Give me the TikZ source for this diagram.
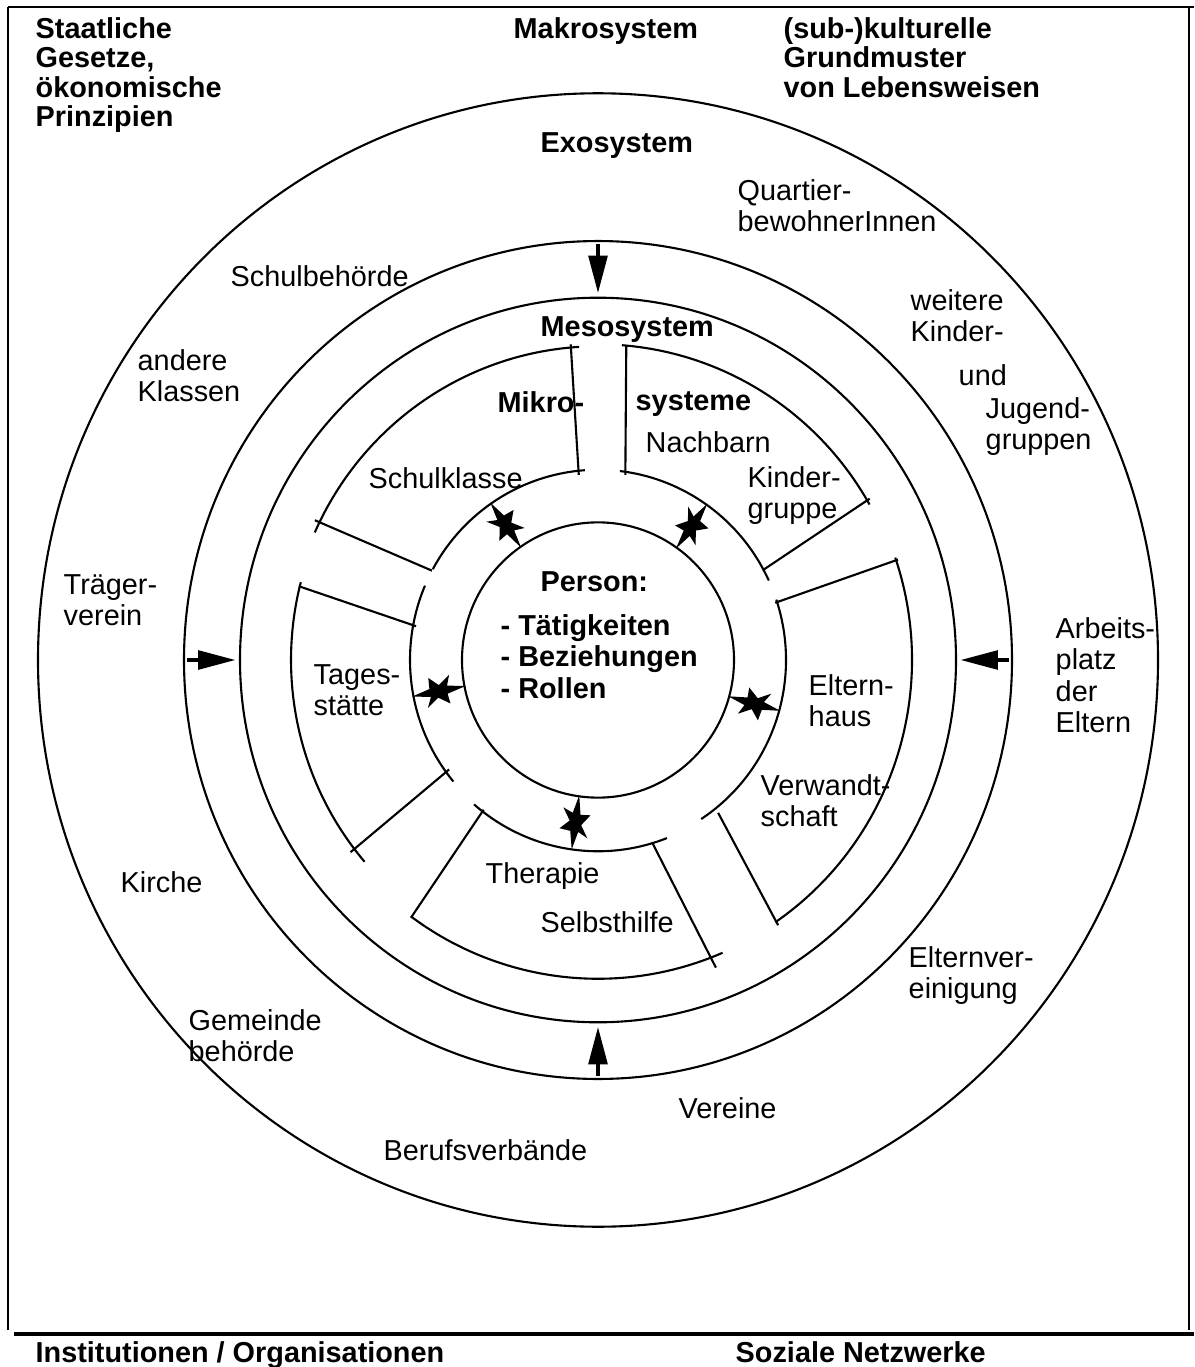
\documentclass[tikz,border=0pt]{standalone}
\usepackage{fontspec}
\setmainfont{Liberation Sans}
\usetikzlibrary{calc,arrows.meta}

\begin{document}
\begin{tikzpicture}[x=0.01cm,y=0.01cm,
    lbl/.style={anchor=north west,inner sep=0pt,align=left,
      font=\fontsize{8.2}{8.9}\selectfont},
    head/.style={lbl,font=\fontsize{8.2}{8.35}\selectfont\bfseries},
    bold/.style={lbl,font=\fontsize{8.2}{8.9}\selectfont\bfseries},
    wall/.style={line width=0.6pt},
    push/.style={line width=1.4pt,-{Triangle[length=10.8pt,width=5.2pt]}}]
  \useasboundingbox (0,0) rectangle (1194,-1367);

  % frame
  \draw[wall] (8,-7) -- (1194,-7);
  \draw[wall] (8,-7) -- (8,-1330);
  \draw[wall] (1189,-7) -- (1189,-1330);
  \draw[line width=0.9pt] (14,-1334) -- (1194,-1334);

  \begin{scope}[shift={(598,-660)},yscale=1.012,wall]
    % system boundaries
    \draw (0,0) circle[radius=560];
    \draw (0,0) circle[radius=414];
    \draw (0,0) circle[radius=358];
    \draw (0,0) circle[radius=136];

    % Schulklasse
    \draw (96:184) -- (95:313);
    \draw (152:188) -- (154:315);
    \draw (93.5:310) arc[start angle=93.5,end angle=156,radius=310];
    \draw (94:188) arc[start angle=94,end angle=151.5,radius=188];
    % Tagesstaette
    \draw (169.6:185) -- (166.3:308);
    \draw (216:184) -- (217.5:312);
    \draw (165.5:307) arc[start angle=165.5,end angle=220.5,radius=307];
    \draw (157:188) arc[start angle=157,end angle=219.7,radius=188];
    % Therapie
    \draw (232.3:187) -- (233.7:316);
    \draw (286.7:188) -- (291.2:326);
    \draw (233.7:315) arc[start angle=233.7,end angle=293.3,radius=315];
    \draw (229:189) arc[start angle=229,end angle=291.4,radius=189];
    % Elternhaus
    \draw (17.7:186) -- (18.3:316);
    \draw (308.5:193) -- (304.5:318);
    \draw (18.8:314) arc[start angle=18.8,end angle=-55.6,radius=314];
    \draw (18.5:188) arc[start angle=18.5,end angle=-56.7,radius=188];
    % Nachbarn
    \draw (81.5:185) -- (84.8:312);
    \draw (28.3:187) -- (30.4:315);
    \draw (85.6:312) arc[start angle=85.6,end angle=29.5,radius=312];
    \draw (83.3:188) arc[start angle=83.3,end angle=24.7,radius=188];

    % influences from outside
    \foreach \a in {0,90,180,270} {
      \coordinate (exo\a) at (\a:411);
      \coordinate (meso\a) at (\a:362);
      \draw[push] (exo\a) -- (meso\a);
    }

    % exchange person <-> microsystems
    \foreach \a in {54.7,124.7,191,262,344.6}
      \fill[shift={(\a:162)},rotate=\a] (27,0) -- (9,4) -- (14,14) -- (2,6)
        -- (-9,14) -- (-8,4) -- (-27,0) -- (-9,-4) -- (-13,-14) -- (-1,-6)
        -- (8,-15) -- (9,-4) -- cycle;
  \end{scope}

  % macro level
  \node[head] (staat) at (35,-17) {Staatliche\\Gesetze,\\ökonomische\\Prinzipien};
  \node[head] (makro) at (513,-17) {Makrosystem};
  \node[head] (kultur) at (783,-17) {(sub-)kulturelle\\Grundmuster\\von Lebensweisen};
  % exo level
  \node[bold] (exo) at (540,-132) {Exosystem};
  \node[lbl] (quartier) at (737,-179) {Quartier-\\bewohnerInnen};
  \node[lbl] (behoerde) at (230,-265) {Schulbehörde};
  \node[lbl] (weitere) at (910,-289) {weitere\\Kinder-};
  \node[lbl] (und) at (958,-364) {und};
  \node[lbl] (jugend) at (985,-397) {Jugend-\\gruppen};
  \node[lbl] (klassen) at (137,-349) {andere\\Klassen};
  \node[lbl] (traeger) at (63,-574) {Träger-\\verein};
  \node[lbl] (arbeit) at (1055,-617) {Arbeits-\\platz\\der\\Eltern};
  \node[lbl] (kirche) at (120,-871) {Kirche};
  \node[lbl] (elternver) at (908,-946) {Elternver-\\einigung};
  \node[lbl] (gemeinde) at (188,-1009) {Gemeinde\\behörde};
  \node[lbl] (vereine) at (678,-1097) {Vereine};
  \node[lbl] (beruf) at (383,-1139) {Berufsverbände};
  % meso / micro level
  \node[bold] (meso) at (540,-316) {Mesosystem};
  \node[bold] (mikro) at (497,-391) {Mikro-};
  \node[bold] (systeme) at (635,-391) {systeme};
  \node[lbl] (nachbarn) at (645,-431) {Nachbarn};
  \node[lbl] (klasse) at (368,-467) {Schulklasse};
  \node[lbl] (kinder) at (747,-466) {Kinder-\\gruppe};
  \node[lbl] (tages) at (313,-664) {Tages-\\stätte};
  \node[lbl] (eltern) at (808,-674) {Eltern-\\haus};
  \node[lbl] (verwandt) at (760,-774) {Verwandt-\\schaft};
  \node[lbl] (therapie) at (485,-862) {Therapie};
  \node[lbl] (selbst) at (540,-911) {Selbsthilfe};
  % person
  \node[bold] (person) at (540,-571) {Person:};
  \node[bold] (rollen) at (500,-614) {- Tätigkeiten\\- Beziehungen\\- Rollen};
  % footer
  \node[bold] (inst) at (35,-1341) {Institutionen / Organisationen};
  \node[bold] (netz) at (735,-1341) {Soziale Netzwerke};
\end{tikzpicture}
\end{document}
